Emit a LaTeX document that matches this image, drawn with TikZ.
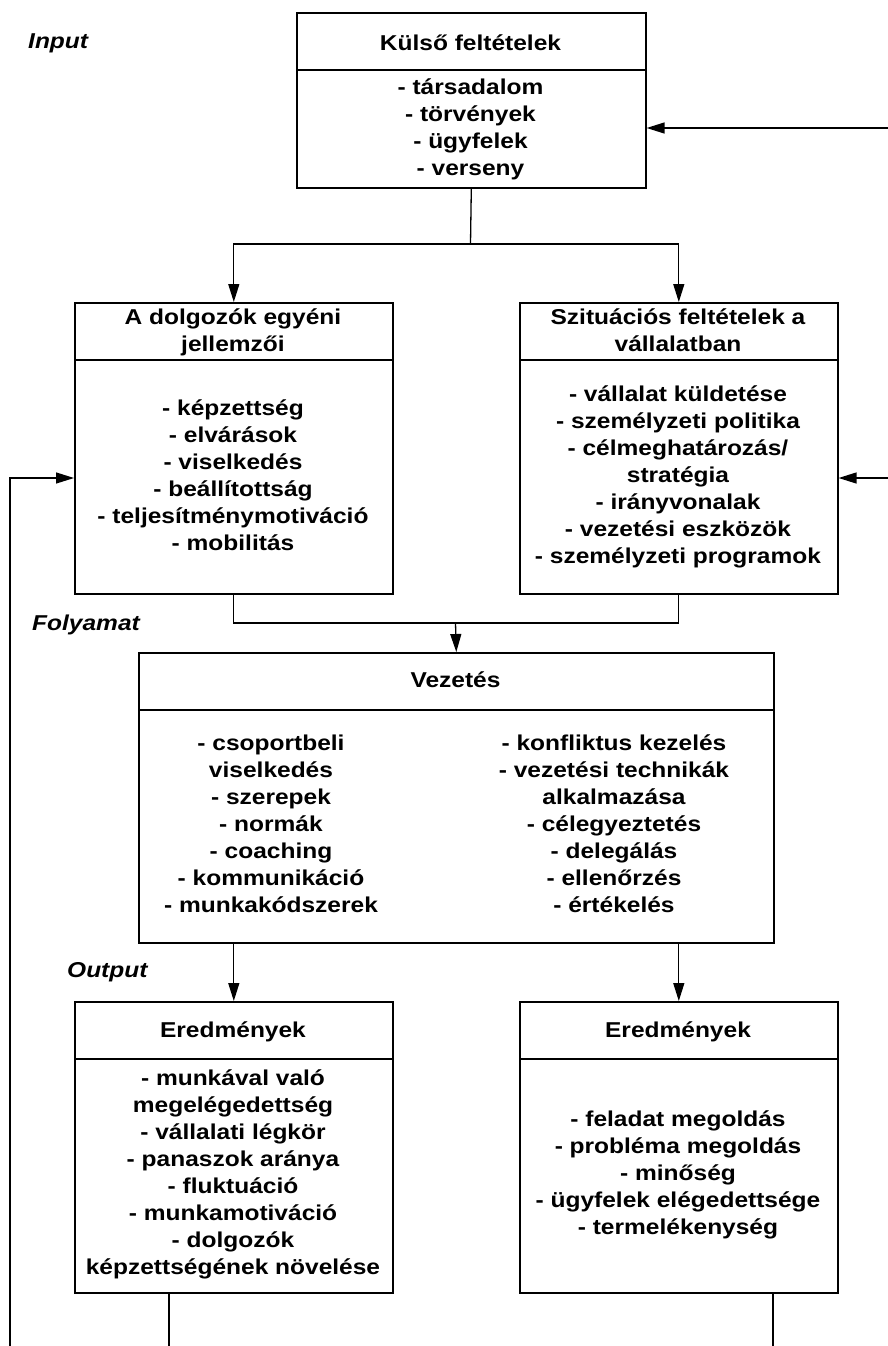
\documentclass[tikz,border=0pt]{standalone}
\usepackage{fontspec}
\setmainfont{Liberation Sans}[FakeStretch=1.14]
\usetikzlibrary{arrows.meta}
\begin{document}
\begin{tikzpicture}[x=1pt,y=-1pt,
  box/.style={draw,line width=1.6pt,inner sep=0pt,anchor=north west},
  divider/.style={line width=1.6pt},
  txt/.style={font=\fontsize{21.5}{27}\selectfont\bfseries,align=center,
    inner sep=0pt,
    execute at begin node={\rule{0pt}{20pt}},
    execute at end node={\rule[-5pt]{0pt}{5pt}}},
  lbl/.style={font=\fontsize{21.5}{27}\selectfont\bfseries\itshape,anchor=west,
    inner sep=0pt,text height=15.5pt,text depth=4.5pt},
  conn/.style={line width=1.3pt},
  arr/.style={conn,-{Triangle[length=18pt,width=11pt]}}]
\useasboundingbox (0,0) rectangle (888,1346);

% boxes
\node[box,minimum width=349pt,minimum height=175pt] (ext) at (296,12) {};
\node[box,minimum width=318pt,minimum height=291pt] (dolg) at (74,302) {};
\node[box,minimum width=318pt,minimum height=291pt] (szit) at (519,302) {};
\node[box,minimum width=635pt,minimum height=290pt] (vez) at (138,652) {};
\node[box,minimum width=318pt,minimum height=291pt] (erl) at (74,1001) {};
\node[box,minimum width=318pt,minimum height=291pt] (err) at (519,1001) {};

% header dividers
\foreach \b in {ext,dolg,szit,vez,erl,err}
  \draw[divider] ([yshift=-58pt]\b.north west) -- ([yshift=-58pt]\b.north east);

% texts
\node[txt] (extT) at (470.5,43) {Külső feltételek};
\node[txt] (extI) at (470.5,129.5) {- társadalom\\- törvények\\- ügyfelek\\- verseny};

\node[txt] (dolgT) at (233,332.5) {A dolgozók egyéni\\jellemzői};
\node[txt] (dolgI) at (233,477.5) {- képzettség\\- elvárások\\- viselkedés\\- beállítottság\\- teljesítménymotiváció\\- mobilitás};

\node[txt] (szitT) at (678,332.5) {Szituációs feltételek a\\vállalatban};
\node[txt] (szitI) at (678,477.5) {- vállalat küldetése\\- személyzeti politika\\- célmeghatározás/\\stratégia\\- irányvonalak\\- vezetési eszközök\\- személyzeti programok};

\node[txt] (vezT) at (455.5,680) {Vezetés};
\node[txt] (vezL) at (271,826) {- csoportbeli\\viselkedés\\- szerepek\\- normák\\- coaching\\- kommunikáció\\- munkakódszerek};
\node[txt] (vezR) at (614,826) {- konfliktus kezelés\\- vezetési technikák\\alkalmazása\\- célegyeztetés\\- delegálás\\- ellenőrzés\\- értékelés};

\node[txt] (erlT) at (233,1030) {Eredmények};
\node[txt] (erlI) at (233,1175) {- munkával való\\megelégedettség\\- vállalati légkör\\- panaszok aránya\\- fluktuáció\\- munkamotiváció\\- dolgozók\\képzettségének növelése};

\node[txt] (errT) at (678,1030) {Eredmények};
\node[txt] (errI) at (678,1175.5) {- feladat megoldás\\- probléma megoldás\\- minőség\\- ügyfelek elégedettsége\\- termelékenység};

% stage labels
\node[lbl] (lin) at (28,43) {Input};
\node[lbl] (lproc) at (32,625) {Folyamat};
\node[lbl] (lout) at (67,972) {Output};

% connectors
\coordinate (split) at (470.5,244);
\draw[conn] (ext.south) -- (split);
\draw[arr] (split) -| (dolg.north);
\draw[arr] (split) -| (szit.north);

\coordinate (merge) at (455.5,623);
\draw[conn] (dolg.south) |- (merge);
\draw[conn] (szit.south) |- (merge);
\draw[arr] (merge) -- (vez.north);

\draw[arr] (vez.south -| dolg.south) -- (erl.north);
\draw[arr] (vez.south -| szit.south) -- (err.north);

\coordinate (outL) at (169,1346);
\coordinate (outR) at (773,1346);
\draw[conn] (erl.south -| outL) -- (outL);
\draw[conn] (err.south -| outR) -- (outR);

% feedback loops
\coordinate (fbL) at (10,1346);
\coordinate (fbLy) at (0,478);
\draw[arr] (fbL) |- (dolg.west |- fbLy);
\coordinate (fbR) at (888,478);
\draw[arr] (fbR) -- (szit.east |- fbR);
\coordinate (fbT) at (888,128);
\draw[arr] (fbT) -- (ext.east |- fbT);
\end{tikzpicture}
\end{document}
